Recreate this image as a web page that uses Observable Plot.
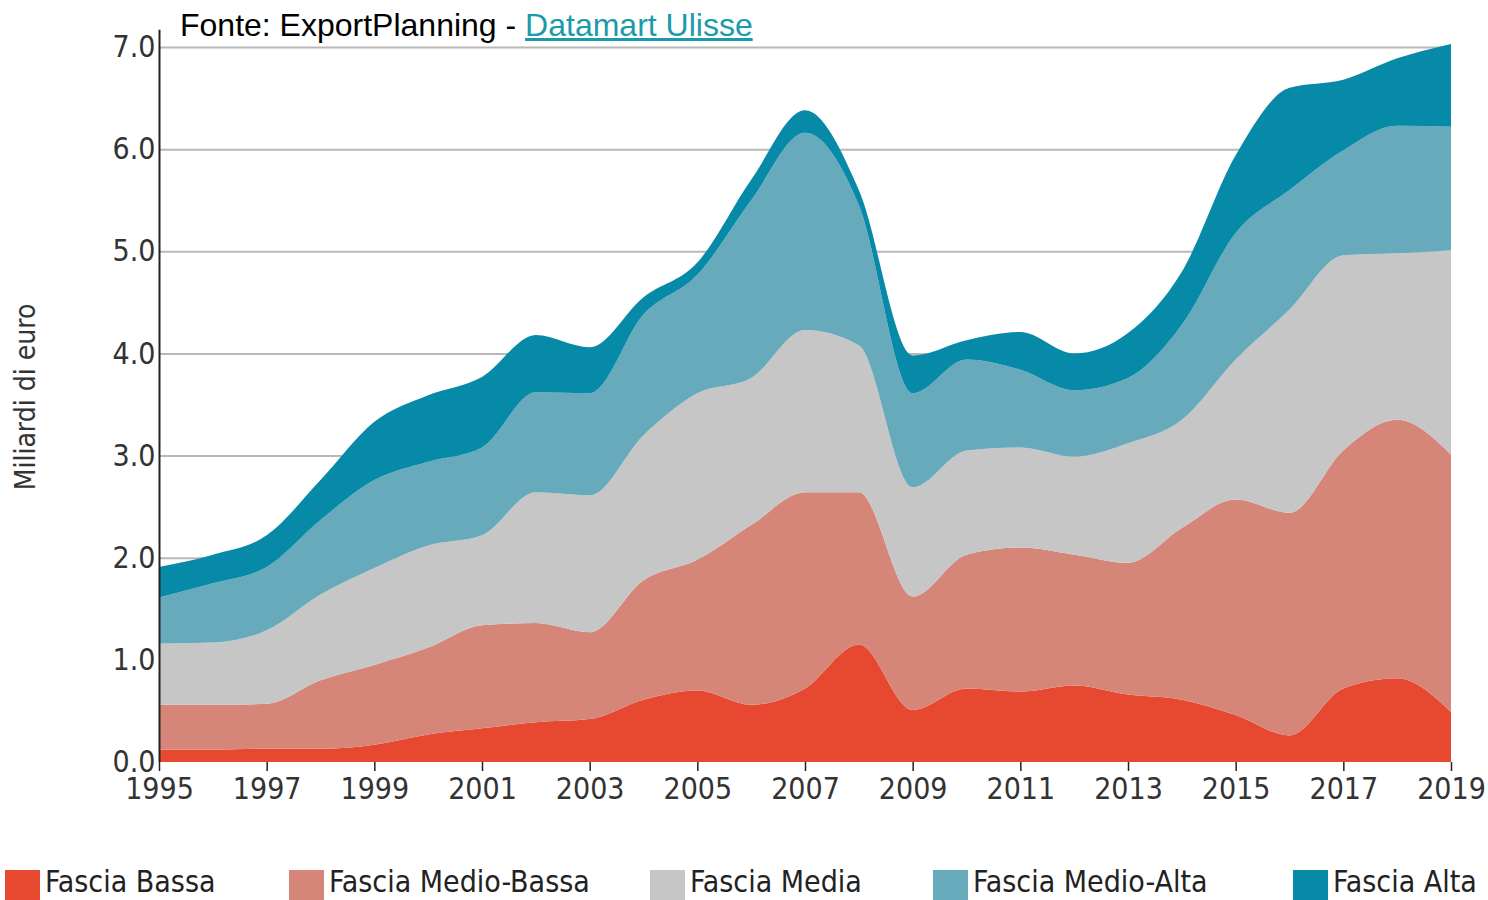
<!DOCTYPE html>
<html><head><meta charset="utf-8">
<script src="https://cdn.jsdelivr.net/npm/d3@7"></script>
<script src="https://cdn.jsdelivr.net/npm/@observablehq/plot@0.6"></script>
<style>
body{margin:0;background:#fff;width:1488px;height:900px;overflow:hidden;position:relative;}
#chart{position:absolute;left:0;top:0;}
#title{position:absolute;left:180px;top:5px;font-family:"Liberation Sans",Arial,sans-serif;font-size:32px;color:#000;white-space:nowrap;line-height:40px;}
#title a{color:#1a9aaa;text-decoration:underline;}
#ylab{position:absolute;left:25px;top:397px;transform:translate(-50%,-50%) rotate(-90deg);font-family:"DejaVu Sans Condensed","DejaVu Sans",sans-serif;font-stretch:condensed;font-size:28px;color:#333;white-space:nowrap;}
.item{position:absolute;top:870px;height:30px;}
.sw{position:absolute;left:0;top:0;width:35px;height:30px;}
.lab{position:absolute;left:40px;top:-3px;font-family:"DejaVu Sans Condensed","DejaVu Sans",sans-serif;font-stretch:condensed;font-size:30px;color:#222;white-space:nowrap;line-height:29px;}
</style></head>
<body>
<div id="chart"></div>
<div id="title">Fonte: ExportPlanning - <a href="#">Datamart Ulisse</a></div>
<div id="ylab">Miliardi di euro</div>
<div id="legend"></div>
<script>
const years = [1995,1996,1997,1998,1999,2000,2001,2002,2003,2004,2005,2006,2007,2008,2009,2010,2011,2012,2013,2014,2015,2016,2017,2018,2019];
const seriesNames = ["Fascia Bassa","Fascia Medio-Bassa","Fascia Media","Fascia Medio-Alta","Fascia Alta"];
const seriesColors = ["#e74830","#d68679","#c6c6c6","#66aabb","#0789a8"];
const bassa      = [0.12,0.12,0.13,0.13,0.17,0.27,0.33,0.39,0.42,0.61,0.70,0.56,0.72,1.15,0.51,0.72,0.69,0.75,0.66,0.61,0.46,0.26,0.72,0.82,0.49];
const medioBassa = [0.44,0.44,0.44,0.67,0.78,0.85,1.01,0.97,0.85,1.17,1.28,1.76,1.92,1.49,1.11,1.31,1.41,1.28,1.29,1.68,2.11,2.18,2.33,2.53,2.52];
const media      = [0.60,0.61,0.72,0.84,0.95,1.00,0.88,1.28,1.34,1.42,1.63,1.44,1.59,1.44,1.07,1.02,0.98,0.96,1.17,1.06,1.37,1.99,1.91,1.63,2.00];
const medioAlta  = [0.45,0.58,0.62,0.73,0.86,0.82,0.86,0.98,1.00,1.18,1.16,1.74,1.93,1.37,0.92,0.89,0.76,0.65,0.64,0.93,1.24,1.17,1.03,1.25,1.21];
const alta       = [0.30,0.28,0.31,0.39,0.57,0.65,0.69,0.56,0.45,0.17,0.12,0.20,0.22,0.15,0.37,0.19,0.37,0.36,0.44,0.52,0.76,1.00,0.69,0.66,0.81];
const yTicks = [0,1,2,3,4,5,6,7];
const xTicks = [1995,1997,1999,2001,2003,2005,2007,2009,2011,2013,2015,2017,2019];

const seriesValues = [bassa, medioBassa, media, medioAlta, alta];
const data = [];
seriesNames.forEach((s,i)=>years.forEach((yr,j)=>data.push({year:yr, series:s, value:seriesValues[i][j]})));

const fontFam = '"DejaVu Sans Condensed","DejaVu Sans",sans-serif';
const chart = Plot.plot({
  width:1488, height:810,
  marginLeft:159, marginRight:37, marginTop:47, marginBottom:48,
  style:{fontFamily:fontFam, fontSize:"30px", fontStretch:"condensed", color:"#333", background:"transparent", overflow:"visible"},
  x:{domain:[1995,2019]},
  y:{domain:[0,7]},
  color:{domain:seriesNames, range:seriesColors},
  marks:[
    Plot.ruleY(yTicks.slice(1), {stroke:"#b8b8b8", strokeWidth:2}),
    Plot.areaY(data, {x:"year", y:"value", fill:"series", order:seriesNames, curve:"monotone-x"}),
    Plot.axisY(yTicks, {tickSize:0, tickPadding:4, tickFormat:d=>d.toFixed(1), label:null}),
    Plot.axisX(xTicks, {tickSize:9, tickPadding:6, tickFormat:d=>String(d), label:null, stroke:"#222", strokeWidth:1.5}),
    Plot.ruleX([1995], {y1:0, y2:7.17, stroke:"#222", strokeWidth:2})
  ]
});
document.getElementById("chart").appendChild(chart);

const legendX = [5,289,650,933,1293];
const legend = document.getElementById("legend");
seriesNames.forEach((s,i)=>{
  const it = document.createElement("div");
  it.className="item"; it.style.left=legendX[i]+"px";
  it.innerHTML = `<div class="sw" style="background:${seriesColors[i]}"></div><div class="lab">${s}</div>`;
  legend.appendChild(it);
});
</script>
</body></html>
